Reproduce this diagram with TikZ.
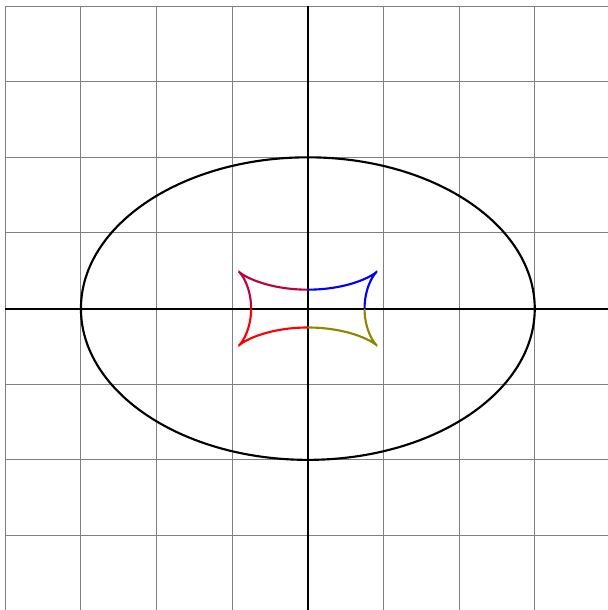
\documentclass[tikz,border=0pt]{standalone}
\usepackage{amsmath, amssymb}
\usepackage{xcolor}

\begin{document}
\begin{tikzpicture}[x=1cm, y=1cm]
				\def\a{3}
				\def\b{2}
				\def\d{2.25}
				\useasboundingbox (-4.07,-3.985) rectangle (3.96,4.08);
				
				\draw[gray, thin] (-4,-4) grid (4,4);
				\draw[thick] (-4,0) -- (4,0);
				\draw[thick] (0,-4) -- (0,4);
				
				\draw[thick] (0,0) ellipse ({\a} and {\b});
				
				\foreach \tA/\tB/\col in {0/90/olive, 90/180/red, 180/270/red!75!blue, 270/360/blue} {
					\draw[\col, thick, samples=120, domain=\tA:\tB, variable=\t]
						plot ({cos(\t)*(\a - \b*\d/sqrt(\b*\b*cos(\t)^2 + \a*\a*sin(\t)^2))},
						      {sin(\t)*(\b - \a*\d/sqrt(\b*\b*cos(\t)^2 + \a*\a*sin(\t)^2))});
				}
\end{tikzpicture}
\end{document}
